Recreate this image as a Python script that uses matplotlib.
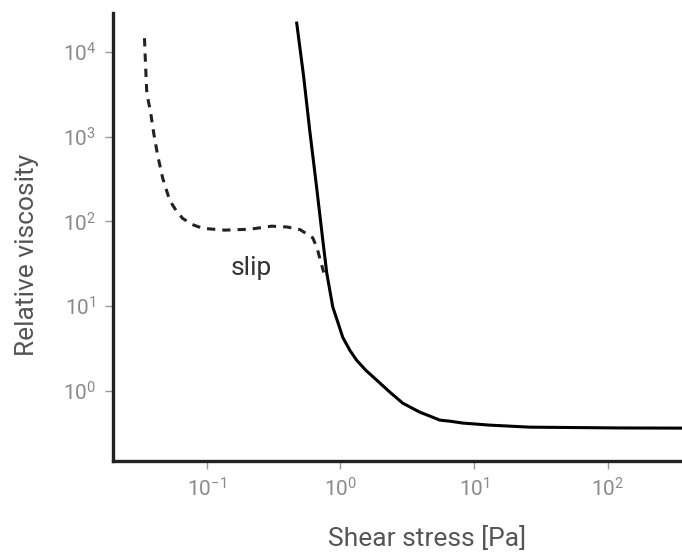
import matplotlib

matplotlib.use("Agg")
import matplotlib.pyplot as plt

plt.rcParams["font.family"] = ["Roboto", "DejaVu Sans"]

# bulk flow curve (solid): shear stress [Pa] vs relative viscosity
bulk_stress = [0.471, 0.53, 0.589, 0.66, 0.738, 0.79, 0.832, 0.876, 0.955, 1.04, 1.174, 1.32,
               1.545, 1.87, 2.34, 2.92, 3.92, 4.66, 5.53, 6.57, 8.2, 13.1, 26.0, 120.0, 400.0]
bulk_visc = [21800, 5200, 1190, 270, 60, 24.6, 15.5, 9.8, 6.5, 4.3, 3.03, 2.31,
             1.76, 1.34, 0.97, 0.72, 0.563, 0.506, 0.454, 0.441, 0.419, 0.396, 0.375, 0.367, 0.365]

# apparent curve with wall slip (dashed)
slip_stress = [0.0343, 0.0346, 0.035, 0.0353, 0.0356, 0.0367, 0.0381, 0.0402, 0.043, 0.0469,
               0.0529, 0.059, 0.066, 0.078, 0.0933, 0.136, 0.21, 0.306, 0.40, 0.50, 0.621,
               0.67, 0.70, 0.75]
slip_visc = [14500, 9800, 6600, 4800, 3530, 2600, 1940, 1100, 605, 324,
             178, 135, 109, 92, 83, 79, 81, 88, 86, 80, 64,
             48, 37, 25]

x_ticks = [0.1, 1, 10, 100]
y_ticks = [1, 10, 100, 1000, 10000]

fig = plt.figure(figsize=(6.82, 5.6), dpi=100)
ax = fig.add_axes([0.1657, 0.1768, 0.8343, 0.7992])

ax.plot(bulk_stress, bulk_visc, color="black", lw=2.2, solid_joinstyle="round")
ax.plot(slip_stress, slip_visc, color="#222222", lw=2.2, dashes=(2.7, 2.3))

ax.set_xscale("log")
ax.set_yscale("log")
ax.set_xlim(0.01995, 357)
ax.set_ylim(0.1496, 28400)
ax.set_xticks(x_ticks)
ax.set_yticks(y_ticks)
ax.minorticks_off()

for side in ["top", "right"]:
    ax.spines[side].set_visible(False)
for side in ["left", "bottom"]:
    ax.spines[side].set_linewidth(2.4)
    ax.spines[side].set_color("#222222")

ax.tick_params(axis="both", which="major", length=6, width=1.0, color="#999999",
               labelcolor="#8a8a8a", labelsize=15, pad=6)

ax.text(0.217, 28, "slip", fontsize=19, color="#333333", ha="center", va="center")

ax.set_xlabel("Shear stress [Pa]", fontsize=19, color="#555555")
ax.set_ylabel("Relative viscosity", fontsize=19, color="#555555")
ax.xaxis.set_label_coords(0.552, -0.145)
ax.yaxis.set_label_coords(-0.13, 0.46)

fig.savefig("out.png", dpi=100)
